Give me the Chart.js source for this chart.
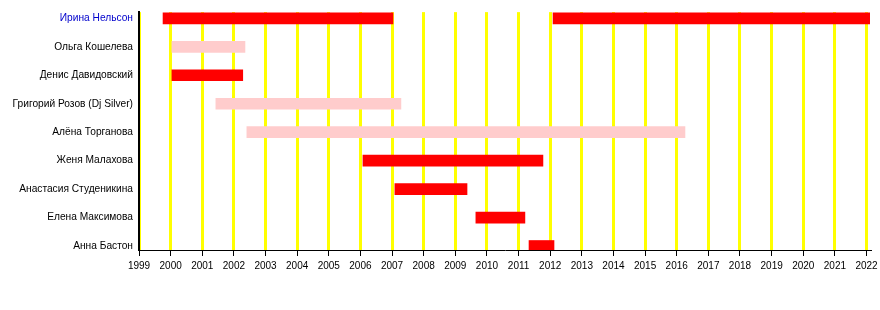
<!DOCTYPE html>
<html>
<head>
<meta charset="utf-8">
<title>Timeline</title>
<script src="https://cdn.jsdelivr.net/npm/chart.js@4/dist/chart.umd.min.js"></script>
<style>
    html, body { margin: 0; padding: 0; background: #fff; }
    #wrap { width: 880px; height: 310px; }
</style>
</head>
<body>
<div id="wrap"><canvas id="timelineChart" width="880" height="310"></canvas></div>
<script>
// Members, top to bottom (first one is a link in the original)
const members = [
    'Ирина Нельсон',
    'Ольга Кошелева',
    'Денис Давидовский',
    'Григорий Розов (Dj Silver)',
    'Алёна Торганова',
    'Женя Малахова',
    'Анастасия Студеникина',
    'Елена Максимова',
    'Анна Бастон',
];

// One entry per bar: row index, start year, end year, kind
const barRows   = [0, 0, 1, 2, 3, 4, 5, 6, 7, 8];
const barStarts = [1999.76, 2012.09, 2000.04, 2000.04, 2001.43, 2002.41, 2006.08, 2007.09, 2009.65, 2011.33];
const barEnds   = [2007.03, 2022.11, 2002.35, 2002.28, 2007.28, 2016.26, 2011.77, 2009.37, 2011.20, 2012.12];
const barKinds  = ['main', 'main', 'guest', 'main', 'guest', 'guest', 'main', 'main', 'main', 'main'];

// Year ticks along the bottom
const years = [
    1999, 2000, 2001, 2002, 2003, 2004, 2005, 2006, 2007, 2008, 2009, 2010,
    2011, 2012, 2013, 2014, 2015, 2016, 2017, 2018, 2019, 2020, 2021, 2022,
];

const kindColors = {
    main: '#ff0000',
    guest: '#ffcccc',
};

const FONT = "'Liberation Sans', Arial, sans-serif";

const ctx = document.getElementById('timelineChart');

new Chart(ctx, {
    type: 'bar',
    data: {
        datasets: [{
            data: barRows.map((row, i) => ({ y: row, x: [barStarts[i], barEnds[i]] })),
            backgroundColor: barKinds.map(k => kindColors[k]),
            borderWidth: 0,
            borderSkipped: false,
            barThickness: 11,
        }],
    },
    options: {
        indexAxis: 'y',
        responsive: false,
        animation: false,
        layout: {
            padding: { top: 10, right: 10, bottom: 0, left: 0 },
        },
        scales: {
            x: {
                type: 'linear',
                min: 1999,
                max: 2022.11,
                afterBuildTicks: (scale) => {
                    scale.ticks = years.map(v => ({ value: v }));
                },
                afterFit: (scale) => {
                    scale.height = 60;
                    // the 2022 label may hang into the right margin
                    scale.paddingLeft = 0;
                    scale.paddingRight = 0;
                },
                grid: {
                    color: '#ffff00',
                    lineWidth: 3,
                    drawTicks: true,
                    tickLength: 6,
                    tickColor: '#000',
                    tickWidth: 1,
                },
                border: {
                    display: true,
                    color: '#000',
                    width: 1,
                },
                ticks: {
                    color: '#000',
                    padding: 4,
                    maxRotation: 0,
                    autoSkip: false,
                    font: { family: FONT, size: 10 },
                    callback: (value) => String(value),
                },
            },
            y: {
                type: 'linear',
                reverse: true,
                offset: false,
                min: -0.22,
                max: 8.14,
                afterBuildTicks: (scale) => {
                    scale.ticks = members.map((_, i) => ({ value: i }));
                },
                afterFit: (scale) => {
                    scale.width = 139;
                },
                grid: {
                    display: false,
                    drawTicks: false,
                },
                border: {
                    display: true,
                    color: '#000',
                    width: 2,
                },
                ticks: {
                    padding: 6,
                    autoSkip: false,
                    font: { family: FONT, size: 10.2 },
                    color: (c) => (c.index === 0 ? '#0000cc' : '#000'),
                    callback: (value) => members[value] ?? '',
                },
            },
        },
        plugins: {
            legend: { display: false },
            tooltip: { enabled: false },
        },
    },
});
</script>
</body>
</html>
